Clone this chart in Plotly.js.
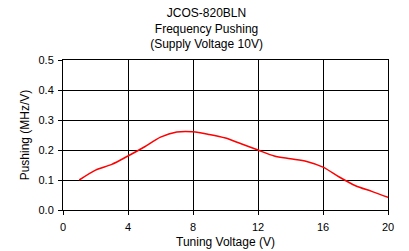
<!DOCTYPE html>
<html>
<head>
<meta charset="utf-8">
<script src="https://cdn.plot.ly/plotly-3.0.1.min.js"></script>
<style>html,body{margin:0;padding:0;background:#fff;}#chart{width:409px;height:251px;}</style>
</head>
<body>
<div id="chart"></div>
<script>
var tuningVoltage = [1, 2, 3, 4, 5, 6, 7, 8, 9, 10, 11, 12, 13, 14, 15, 16, 17, 18, 19, 20];
var pushing = [0.100, 0.133, 0.152, 0.180, 0.210, 0.243, 0.260, 0.261, 0.252, 0.240, 0.220, 0.200, 0.180, 0.171, 0.162, 0.143, 0.110, 0.081, 0.062, 0.042];
var xTicks = [0, 4, 8, 12, 16, 20];
var yTicks = [0, 0.1, 0.2, 0.3, 0.4, 0.5];
var yTickLabels = ['0.0', '0.1', '0.2', '0.3', '0.4', '0.5'];

var font = 'Liberation Sans, Arial, sans-serif';
var trace = {
  x: tuningVoltage,
  y: pushing,
  type: 'scatter',
  mode: 'lines',
  line: {color: '#ff0000', width: 1.5, shape: 'spline', smoothing: 0.8},
  hoverinfo: 'skip'
};
var layout = {
  width: 409,
  height: 251,
  margin: {l: 63, r: 21, t: 60, b: 41, pad: 0},
  paper_bgcolor: '#ffffff',
  plot_bgcolor: '#ffffff',
  showlegend: false,
  font: {family: font, size: 11, color: '#000'},
  title: {
    text: 'JCOS-820BLN<br>Frequency Pushing<br>(Supply Voltage 10V)',
    font: {family: font, size: 12, color: '#000'},
    xref: 'container', x: 0.505, xanchor: 'center',
    yref: 'container', y: 0.932, yanchor: 'middle'
  },
  xaxis: {
    range: [0, 20],
    tickvals: xTicks,
    ticktext: xTicks.map(String),
    ticks: 'outside', ticklen: 4, tickcolor: '#000', tickwidth: 1,
    showgrid: true, gridcolor: '#000', gridwidth: 1,
    showline: true, linecolor: '#000', linewidth: 1, mirror: true,
    zeroline: false,
    ticklabelstandoff: 3,
    tickfont: {family: font, size: 11, color: '#000'},
    title: {text: 'Tuning Voltage (V)', font: {family: font, size: 12, color: '#000'}, standoff: 5}
  },
  yaxis: {
    range: [0, 0.5],
    tickvals: yTicks,
    ticktext: yTickLabels,
    ticks: 'outside', ticklen: 4, tickcolor: '#000', tickwidth: 1,
    showgrid: true, gridcolor: '#000', gridwidth: 1,
    showline: true, linecolor: '#000', linewidth: 1, mirror: true,
    zeroline: false,
    ticklabelstandoff: 2,
    tickfont: {family: font, size: 11, color: '#000'},
    title: {text: 'Pushing (MHz/V)', font: {family: font, size: 12, color: '#000'}, standoff: 6}
  }
};
Plotly.newPlot('chart', [trace], layout, {displayModeBar: false, staticPlot: true});
</script>
</body>
</html>
